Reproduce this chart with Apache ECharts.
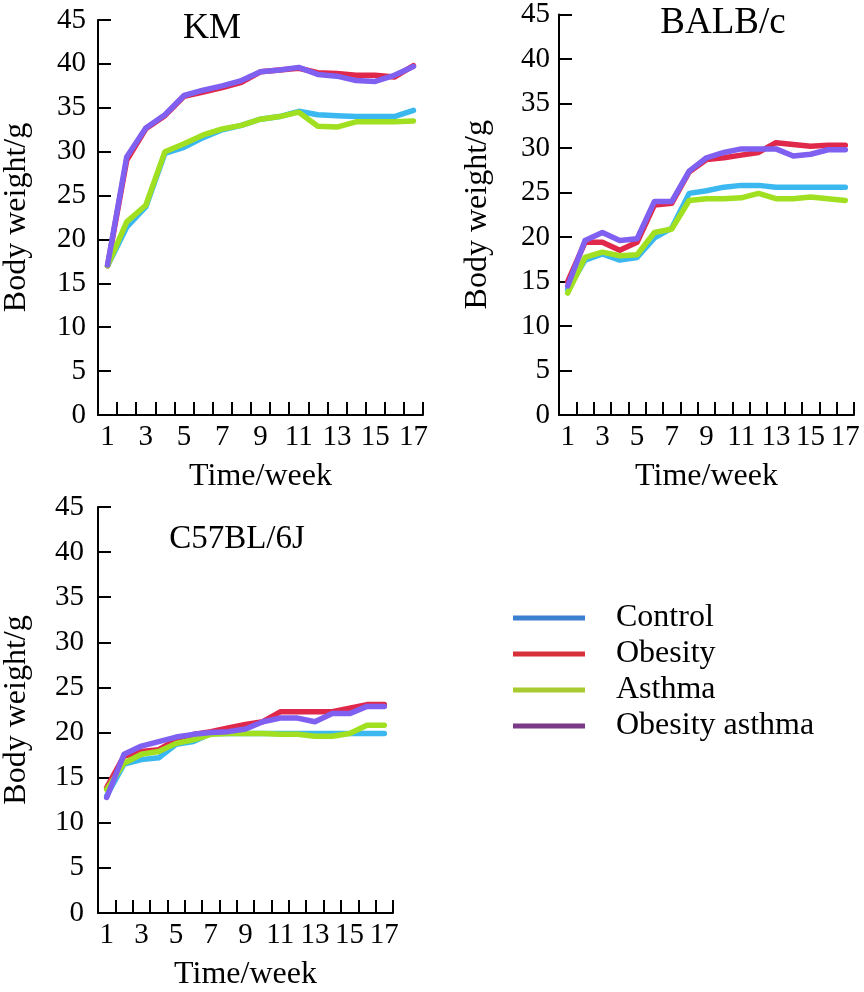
<!DOCTYPE html>
<html>
<head>
<meta charset="utf-8">
<script src="https://cdn.jsdelivr.net/npm/echarts@6/dist/echarts.min.js"></script>
<style>html,body{margin:0;padding:0;background:#fff;}#c{width:864px;height:992px;}</style>
</head>
<body>
<div id="c"></div>
<script>
var weeks = ['1','2','3','4','5','6','7','8','9','10','11','12','13','14','15','16','17'];
var groupNames = ['Control','Obesity','Asthma','Obesity asthma'];
var panelTitles = ['KM','BALB/c','C57BL/6J'];
var yTicks = [0,5,10,15,20,25,30,35,40,45];

// KM
var kmControl = [17.0,21.4,23.7,29.8,30.5,31.6,32.5,33.0,33.7,34.0,34.6,34.2,34.1,34.0,34.0,34.0,34.7];
var kmObesity = [17.0,29.0,32.6,34.1,36.3,36.8,37.3,37.9,39.1,39.3,39.5,39.0,38.9,38.7,38.7,38.5,39.8];
var kmAsthma = [17.0,22.0,23.9,30.0,30.9,31.9,32.6,33.0,33.7,34.0,34.5,32.9,32.8,33.4,33.4,33.4,33.5];
var kmObAsthma = [17.1,29.4,32.7,34.2,36.4,37.0,37.5,38.1,39.1,39.3,39.6,38.8,38.6,38.1,38.0,38.7,39.7];
// BALB/c
var bControl = [14.1,17.4,18.1,17.4,17.7,19.9,21.0,24.9,25.2,25.6,25.8,25.8,25.6,25.6,25.6,25.6,25.6];
var bObesity = [15.0,19.4,19.4,18.5,19.4,23.6,23.8,27.3,28.7,28.9,29.2,29.5,30.6,30.4,30.2,30.3,30.3];
var bAsthma = [13.7,17.7,18.3,17.9,18.0,20.5,20.9,24.1,24.3,24.3,24.4,24.9,24.3,24.3,24.5,24.3,24.1];
var bObAsthma = [14.5,19.6,20.5,19.6,19.8,24.0,24.0,27.4,28.9,29.5,29.9,29.9,29.9,29.1,29.3,29.8,29.8];
// C57BL/6J
var cControl = [13.0,16.5,17.0,17.2,18.7,19.0,19.9,19.9,19.9,19.9,19.9,19.9,19.9,19.9,19.9,19.9,19.9];
var cObesity = [13.9,17.4,17.9,18.1,19.2,19.8,20.1,20.5,20.9,21.2,22.3,22.3,22.3,22.3,22.7,23.1,23.1];
var cAsthma = [13.7,16.6,17.6,17.9,18.8,19.2,19.8,19.9,19.9,19.9,19.8,19.8,19.6,19.6,19.9,20.8,20.8];
var cObAsthma = [12.8,17.6,18.5,19.0,19.5,19.8,20.0,20.1,20.4,21.2,21.6,21.6,21.2,22.1,22.1,22.9,22.9];

var panelData = [
  [kmControl, kmObesity, kmAsthma, kmObAsthma],
  [bControl, bObesity, bAsthma, bObAsthma],
  [cControl, cObesity, cAsthma, cObAsthma]
];

var lineColors = ['#3cb8f0','#e0284a','#a0e020','#8060f0'];
var legendColors = ['#3a7fd0','#d83038','#a8cc30','#7a3a88'];
var FONT = 'Liberation Serif';

var grids = [
  {left:97, top:20, width:326, height:395},
  {left:559, top:5, width:295, height:410},
  {left:97, top:507, width:296, height:410}
];
var yLabelMargin = [12, 9, 14];

var xAxes = [], yAxes = [], series = [];
for (var p = 0; p < 3; p++) {
  xAxes.push({
    type:'category', gridIndex:p, data:weeks, boundaryGap:true,
    name:'Time/week', nameLocation:'middle', nameGap:46,
    nameTextStyle:{fontFamily:FONT, fontSize:32, color:'#000'},
    axisLine:{lineStyle:{color:'#000', width:2}},
    axisTick:{show:true, inside:true, interval:0, length:13, lineStyle:{color:'#000', width:2}},
    axisLabel:{interval:1, margin:8, fontFamily:FONT, fontSize:29, color:'#000'},
    splitLine:{show:false}
  });
  yAxes.push({
    type:'value', gridIndex:p, min:yTicks[0], max:yTicks[yTicks.length-1], interval:5,
    name:'Body weight/g', nameLocation:'middle', nameGap:65,
    nameTextStyle:{fontFamily:FONT, fontSize:32, color:'#000'},
    axisLine:{show:true, lineStyle:{color:'#000', width:2}},
    axisTick:{show:true, inside:true, length:13, lineStyle:{color:'#000', width:2}},
    axisLabel:{margin:yLabelMargin[p], fontFamily:FONT, fontSize:29, color:'#000'},
    splitLine:{show:false}
  });
  for (var s = 0; s < 4; s++) {
    series.push({
      type:'line', name:groupNames[s], xAxisIndex:p, yAxisIndex:p,
      data:panelData[p][s], symbol:'none', smooth:false,
      lineStyle:{color:lineColors[s], width:5.5, cap:'round', join:'round'},
      itemStyle:{color:lineColors[s]},
      emphasis:{disabled:true}, animation:false
    });
  }
}

var option = {
  backgroundColor:'#fff',
  animation:false,
  textStyle:{fontFamily:FONT},
  title:[
    {text:panelTitles[0], left:207, top:6, textAlign:'center', textStyle:{fontFamily:FONT, fontSize:36, fontWeight:'normal', color:'#000'}},
    {text:panelTitles[1], left:718, top:0, textAlign:'center', textStyle:{fontFamily:FONT, fontSize:37, fontWeight:'normal', color:'#000'}},
    {text:panelTitles[2], left:232, top:518, textAlign:'center', textStyle:{fontFamily:FONT, fontSize:33, fontWeight:'normal', color:'#000'}}
  ],
  legend:{
    orient:'vertical', left:508, top:595, icon:'rect', itemWidth:72, itemHeight:5, itemGap:0,
    textStyle:{fontFamily:FONT, fontSize:32, color:'#000', lineHeight:36, padding:[0,0,0,26]},
    data: groupNames.map(function(n,i){ return {name:n, itemStyle:{color:legendColors[i]}}; }),
    selectedMode:false
  },
  grid:grids,
  xAxis:xAxes,
  yAxis:yAxes,
  series:series
};

var chart = echarts.init(document.getElementById('c'), null, {renderer:'canvas'});
chart.setOption(option);
</script>
</body>
</html>
